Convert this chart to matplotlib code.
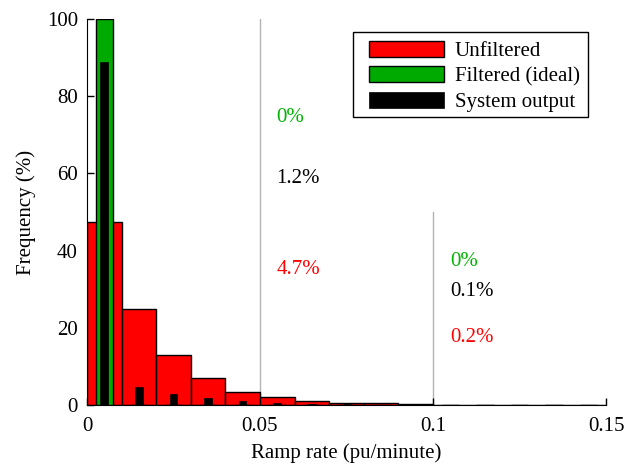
import numpy as np
import matplotlib
matplotlib.use('Agg')
import matplotlib.pyplot as plt
from matplotlib.patches import Rectangle

plt.rcParams['font.family'] = ['Liberation Serif', 'DejaVu Serif']
plt.rcParams['font.size'] = 15

# ramp rate histograms, bins of 0.01 pu/minute (centres)
binCentres = [0.005, 0.015, 0.025, 0.035, 0.045, 0.055, 0.065, 0.075,
              0.085, 0.095, 0.105, 0.115, 0.125, 0.135, 0.145]
unfiltered = [47.5, 24.8, 13.0, 6.9, 3.3, 2.1, 1.1, 0.6,
              0.45, 0.25, 0.08, 0.05, 0.03, 0.02, 0.02]
filteredIdeal = [100, 0, 0, 0, 0, 0, 0, 0, 0, 0, 0, 0, 0, 0, 0]
systemOutput = [88.8, 4.7, 2.8, 1.7, 1.0, 0.55, 0.3, 0.15,
                0.07, 0.03, 0.05, 0.03, 0.02, 0, 0]

# share of samples above each threshold
thresholds = [0.05, 0.1]
lineTops = [100, 50]
aboveUnfiltered = ['4.7%', '0.2%']
aboveFiltered = ['0%', '0%']
aboveSystem = ['1.2%', '0.1%']

red = '#ff0000'
green = '#00aa00'

fig = plt.figure(figsize=(6.3, 4.67), dpi=100)
ax = fig.add_axes([0.138, 0.133, 0.824, 0.826])

ax.bar(binCentres, unfiltered, width=0.01, color=red, edgecolor='black',
       linewidth=1, label='Unfiltered', zorder=2)
ax.bar(binCentres, filteredIdeal, width=0.005, color=green, edgecolor='black',
       linewidth=1, label='Filtered (ideal)', zorder=3)
ax.bar(binCentres, systemOutput, width=0.0022, color='black', edgecolor='black',
       linewidth=0.5, label='System output', zorder=4)

for t, top in zip(thresholds, lineTops):
    ax.plot([t, t], [0, top], color='#b4b4b4', linewidth=1, zorder=1)

textX = [0.0548, 0.105]
yFiltered = [74.4, 37.1]
ySystem = [58.8, 29.4]
yUnfiltered = [35.0, 17.4]
for i in range(2):
    ax.text(textX[i], yFiltered[i], aboveFiltered[i], color='#00b400', va='center')
    ax.text(textX[i], ySystem[i], aboveSystem[i], color='black', va='center')
    ax.text(textX[i], yUnfiltered[i], aboveUnfiltered[i], color=red, va='center')

ax.set_xlim(0, 0.15)
ax.set_ylim(0, 100)
ax.set_xticks([0, 0.05, 0.1, 0.15])
ax.set_xticklabels(['0', '0.05', '0.1', '0.15'])
ax.set_yticks([0, 20, 40, 60, 80, 100])
ax.tick_params(direction='in', length=5, width=1)
ax.tick_params(axis='x', pad=9)
ax.tick_params(axis='y', pad=6.5)
ax.spines['top'].set_visible(False)
ax.spines['right'].set_visible(False)
ax.set_xlabel('Ramp rate (pu/minute)', labelpad=5)
ax.set_ylabel('Frequency (%)', labelpad=8)

# legend box drawn separately so it gets the wider side margins
box = Rectangle((0.5125, 0.746), 0.453, 0.22, transform=ax.transAxes,
                facecolor='white', edgecolor='black', linewidth=1, zorder=5)
ax.add_patch(box)
leg = ax.legend(loc='upper right', bbox_to_anchor=(0.965, 0.966),
                frameon=False, handlelength=3.6, handleheight=0.82,
                labelspacing=0.25, borderaxespad=0, handletextpad=0.5,
                borderpad=0.4)
leg.set_zorder(6)

fig.savefig('out.png', dpi=100)
